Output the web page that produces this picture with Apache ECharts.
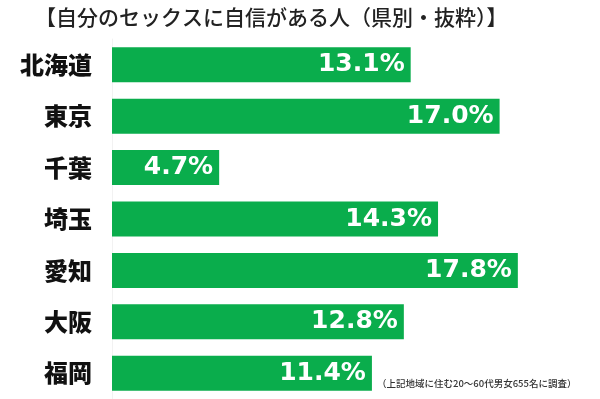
<!DOCTYPE html>
<html>
<head>
<meta charset="utf-8">
<script src="https://cdn.jsdelivr.net/npm/echarts@6/dist/echarts.min.js"></script>
<style>
html, body { margin: 0; padding: 0; background: #fff; }
#main { width: 600px; height: 399px; }
</style>
</head>
<body>
<div id="main"></div>
<script>
// 都道府県（上から順）
var prefList = ['北海道', '東京', '千葉', '埼玉', '愛知', '大阪', '福岡'];
// 自信がある人の割合（%）
var rateList = [13.1, 17.0, 4.7, 14.3, 17.8, 12.8, 11.4];

var titleText = '【自分のセックスに自信がある人（県別・抜粋）】';
var noteText = '（上記地域に住む20～60代男女655名に調査）';

var myChart = echarts.init(document.getElementById('main'));

option = {
    animation: false,
    backgroundColor: '#fff',
    title: [{
        text: titleText,
        left: 30,
        top: 2,
        textStyle: {
            fontFamily: 'Noto Sans CJK JP',
            fontSize: 21,
            fontWeight: 500,
            color: '#222'
        }
    }],
    graphic: [{
        type: 'text',
        left: 377,
        top: 379,
        style: {
            text: noteText,
            fontFamily: 'Noto Sans CJK JP',
            fontSize: 9.5,
            fontWeight: 500,
            fill: '#333'
        }
    }],
    grid: {
        left: 112,
        right: 32,
        top: 39,
        bottom: 0
    },
    xAxis: {
        type: 'value',
        min: 0,
        max: 20,
        show: false
    },
    yAxis: {
        type: 'category',
        data: prefList,
        inverse: true,
        axisLine: {
            show: true,
            lineStyle: { color: '#f2f2f2', width: 1 }
        },
        axisTick: { show: false },
        axisLabel: {
            margin: 20,
            fontFamily: 'Noto Sans CJK JP',
            fontSize: 24,
            fontWeight: 900,
            color: '#111'
        }
    },
    series: [{
        type: 'bar',
        data: rateList,
        barCategoryGap: '32%',
        itemStyle: { color: '#0aad4c' },
        label: {
            show: true,
            position: 'insideRight',
            distance: 6,
            formatter: function (p) {
                return p.value.toFixed(1) + '%';
            },
            fontFamily: 'DejaVu Sans',
            fontSize: 25,
            fontWeight: 'bold',
            color: '#fff'
        }
    }]
};
myChart.setOption(option);
</script>
</body>
</html>
